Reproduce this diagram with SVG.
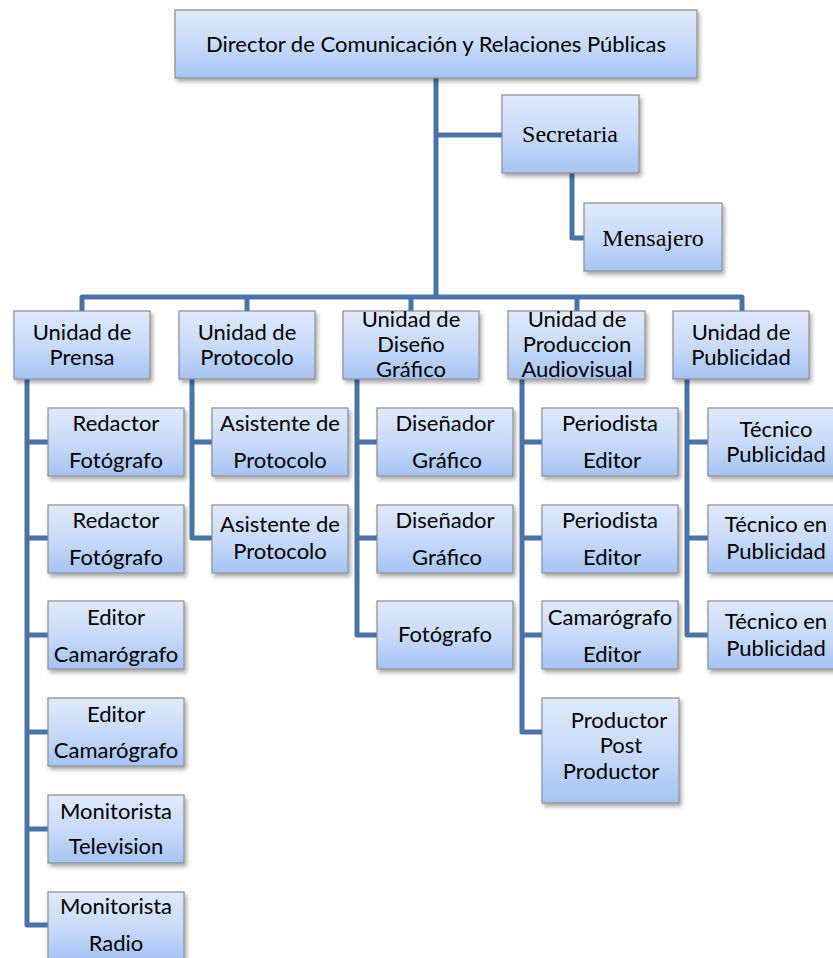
<svg xmlns="http://www.w3.org/2000/svg" width="833" height="958" viewBox="0 0 833 958">
<defs>
<linearGradient id="g" x1="0" y1="0" x2="0" y2="1">
<stop offset="0" stop-color="#dfe9fc"/>
<stop offset="0.5" stop-color="#c9dbf9"/>
<stop offset="1" stop-color="#a6c3f4"/>
</linearGradient>
<filter id="sh" x="-10%" y="-10%" width="125%" height="135%">
<feDropShadow dx="2" dy="3" stdDeviation="2" flood-color="#000" flood-opacity="0.35"/>
</filter>
</defs>
<style>
.box{fill:url(#g);stroke:#8e8e8e;stroke-width:1.2;filter:url(#sh)}
.t{font-family:Lato,"Liberation Sans",sans-serif;font-size:22px;fill:#000;text-anchor:middle}
.s{font-family:"Liberation Serif",serif;font-size:24px;fill:#000;text-anchor:middle}
.c{fill:none;stroke:#4a72a6;stroke-width:5;stroke-linejoin:round}
</style>
<rect width="833" height="958" fill="#fff"/>
<g id="connectors">
<path class="c" d="M436 78V297M436 135H502M572 173V238H584"/>
<path class="c" d="M82 311V297H742V311M247 297V311M411 297V311M577 297V311"/>
<path class="c" d="M27 379V925H48M27 442H48M27 538H48M27 635H48M27 732H48M27 829H48"/>
<path class="c" d="M192 379V538H212M192 442H212"/>
<path class="c" d="M357 379V635H377M357 442H377M357 538H377"/>
<path class="c" d="M522 379V732H542M522 442H542M522 538H542M522 635H542"/>
<path class="c" d="M687 379V635H708M687 442H708M687 538H708"/>
</g>
<g id="director"><rect class="box" x="175" y="10" width="522" height="68"/><text class="t" x="436" y="52">Director de Comunicación y Relaciones Públicas</text></g>
<g id="secretaria"><rect class="box" x="502" y="95" width="137" height="78"/><text class="s" x="570" y="142">Secretaria</text></g>
<g id="mensajero"><rect class="box" x="584" y="203" width="138" height="68"/><text class="s" x="653" y="246">Mensajero</text></g>

<g id="u-prensa"><rect class="box" x="14" y="311" width="136" height="68"/><text class="t" x="82" y="340">Unidad de</text><text class="t" x="82" y="365">Prensa</text></g>
<g id="u-protocolo"><rect class="box" x="179" y="311" width="136" height="68"/><text class="t" x="247" y="340">Unidad de</text><text class="t" x="247" y="365">Protocolo</text></g>
<g id="u-diseno"><rect class="box" x="343" y="311" width="136" height="68"/><text class="t" x="411" y="327">Unidad de</text><text class="t" x="411" y="352">Diseño</text><text class="t" x="411" y="377">Gráfico</text></g>
<g id="u-produccion"><rect class="box" x="508" y="311" width="137" height="68"/><text class="t" x="577" y="327">Unidad de</text><text class="t" x="577" y="352">Produccion</text><text class="t" x="577" y="377">Audiovisual</text></g>
<g id="u-publicidad"><rect class="box" x="673" y="311" width="136" height="68"/><text class="t" x="741" y="340">Unidad de</text><text class="t" x="741" y="365">Publicidad</text></g>

<g id="p1"><rect class="box" x="48" y="408" width="136" height="68"/><text class="t" x="116" y="431">Redactor</text><text class="t" x="116" y="468">Fotógrafo</text></g>
<g id="p2"><rect class="box" x="48" y="505" width="136" height="68"/><text class="t" x="116" y="528">Redactor</text><text class="t" x="116" y="565">Fotógrafo</text></g>
<g id="p3"><rect class="box" x="48" y="601" width="136" height="68"/><text class="t" x="116" y="625">Editor</text><text class="t" x="116" y="662">Camarógrafo</text></g>
<g id="p4"><rect class="box" x="48" y="698" width="136" height="68"/><text class="t" x="116" y="722">Editor</text><text class="t" x="116" y="758">Camarógrafo</text></g>
<g id="p5"><rect class="box" x="48" y="795" width="136" height="68"/><text class="t" x="116" y="819">Monitorista</text><text class="t" x="116" y="854">Television</text></g>
<g id="p6"><rect class="box" x="48" y="892" width="136" height="68"/><text class="t" x="116" y="914">Monitorista</text><text class="t" x="116" y="951">Radio</text></g>

<g id="pr1"><rect class="box" x="212" y="408" width="136" height="68"/><text class="t" x="280" y="431">Asistente de</text><text class="t" x="280" y="468">Protocolo</text></g>
<g id="pr2"><rect class="box" x="212" y="505" width="136" height="68"/><text class="t" x="280" y="532">Asistente de</text><text class="t" x="280" y="559">Protocolo</text></g>

<g id="d1"><rect class="box" x="377" y="408" width="136" height="68"/><text class="t" x="445" y="431">Diseñador</text><text class="t" x="447" y="468">Gráfico</text></g>
<g id="d2"><rect class="box" x="377" y="505" width="136" height="68"/><text class="t" x="445" y="528">Diseñador</text><text class="t" x="447" y="565">Gráfico</text></g>
<g id="d3"><rect class="box" x="377" y="601" width="136" height="68"/><text class="t" x="445" y="642">Fotógrafo</text></g>

<g id="a1"><rect class="box" x="542" y="408" width="136" height="68"/><text class="t" x="610" y="431">Periodista</text><text class="t" x="612" y="468">Editor</text></g>
<g id="a2"><rect class="box" x="542" y="505" width="136" height="68"/><text class="t" x="610" y="528">Periodista</text><text class="t" x="612" y="565">Editor</text></g>
<g id="a3"><rect class="box" x="542" y="601" width="136" height="68"/><text class="t" x="610" y="625">Camarógrafo</text><text class="t" x="612" y="662">Editor</text></g>
<g id="a4"><rect class="box" x="542" y="698" width="137" height="105"/><text class="t" x="619" y="728">Productor</text><text class="t" x="621" y="753">Post</text><text class="t" x="611" y="779">Productor</text></g>

<g id="b1"><rect class="box" x="708" y="408" width="136" height="68"/><text class="t" x="776" y="437">Técnico</text><text class="t" x="776" y="462">Publicidad</text></g>
<g id="b2"><rect class="box" x="708" y="505" width="136" height="68"/><text class="t" x="776" y="532">Técnico en</text><text class="t" x="776" y="559">Publicidad</text></g>
<g id="b3"><rect class="box" x="708" y="601" width="136" height="68"/><text class="t" x="776" y="629">Técnico en</text><text class="t" x="776" y="656">Publicidad</text></g>
</svg>
